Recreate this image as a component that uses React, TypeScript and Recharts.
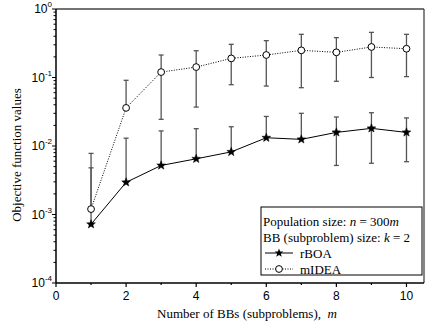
import React from 'react';
import { LineChart, Line, XAxis, YAxis, ErrorBar, ReferenceLine, Label } from 'recharts';

// ---- data ----
const mValues = [1, 2, 3, 4, 5, 6, 7, 8, 9, 10];

const rboaMean = [7.2e-4, 2.95e-3, 5.2e-3, 6.5e-3, 8.2e-3, 0.0132, 0.0125, 0.0158, 0.0181, 0.0158];
const rboaHigh = [4.8e-3, 0.013, 0.0166, 0.0179, 0.0191, 0.027, 0.03, 0.0265, 0.0306, 0.0257];
const rboaLow: (number | null)[] = [null, null, null, null, null, null, null, 5.2e-3, 5.6e-3, 5.9e-3];

const mideaMean = [1.2e-3, 0.036, 0.12, 0.142, 0.19, 0.213, 0.249, 0.233, 0.279, 0.263];
const mideaHigh = [7.8e-3, 0.091, 0.213, 0.246, 0.305, 0.345, 0.427, 0.382, 0.456, 0.427];
const mideaLow: (number | null)[] = [null, null, 0.0245, 0.037, 0.0785, 0.075, 0.071, 0.088, 0.1, 0.103];

const xTicks = [0, 1, 2, 3, 4, 5, 6, 7, 8, 9, 10];
const yMajorExp = [-4, -3, -2, -1, 0];
const yMinorMult = [2, 3, 4, 5, 6, 7, 8, 9];

const seriesNames = ['rBOA', 'mIDEA'];
const legendLines = ['Population size: ', 'BB (subproblem) size: '];

// ---- derived ----
const data = mValues.map((m, i) => ({
  m,
  rboa: rboaMean[i],
  rboaErr: [rboaLow[i] == null ? 0 : rboaMean[i] - (rboaLow[i] as number), rboaHigh[i] - rboaMean[i]],
  midea: mideaMean[i],
  mideaErr: [mideaLow[i] == null ? 0 : mideaMean[i] - (mideaLow[i] as number), mideaHigh[i] - mideaMean[i]],
}));

const yTicks: number[] = [];
yMajorExp.forEach((e) => {
  yTicks.push(Math.pow(10, e));
  if (e < 0) yMinorMult.forEach((k) => yTicks.push(k * Math.pow(10, e)));
});

// ---- layout ----
const W = 430;
const H = 331;
const PLOT_LEFT = 56;
const PLOT_TOP = 9;
const PLOT_RIGHT = 424;
const PLOT_BOTTOM = 283;
const SANS = '"Liberation Sans", Arial, sans-serif';
const SERIF = '"Liberation Serif", "Times New Roman", serif';

const starPoints = (cx: number, cy: number, R: number, r: number) => {
  const pts: string[] = [];
  for (let i = 0; i < 10; i++) {
    const rad = i % 2 === 0 ? R : r;
    const a = -Math.PI / 2 + (i * Math.PI) / 5;
    pts.push(`${(cx + rad * Math.cos(a)).toFixed(2)},${(cy + rad * Math.sin(a)).toFixed(2)}`);
  }
  return pts.join(' ');
};

const StarDot = (p: any) => {
  const { cx, cy, index } = p;
  if (cx == null || cy == null) return <g key={`s${index}`} />;
  return <polygon key={`s${index}`} points={starPoints(cx, cy, 4.6, 1.9)} fill="#000" stroke="#000" strokeWidth={0.5} />;
};

const CircleDot = (p: any) => {
  const { cx, cy, index } = p;
  if (cx == null || cy == null) return <g key={`c${index}`} />;
  return <circle key={`c${index}`} cx={cx} cy={cy} r={3.4} fill="#fff" stroke="#000" strokeWidth={1} />;
};

const XTick = (p: any) => {
  const { x, payload } = p;
  const v = payload.value;
  const major = v % 2 === 0;
  return (
    <g>
      <line x1={x} x2={x} y1={PLOT_BOTTOM} y2={PLOT_BOTTOM + (major ? 4 : 2)} stroke="#000" strokeWidth={1.2} />
      {major && (
        <text x={x} y={300} textAnchor="middle" fontFamily={SANS} fontSize={12} fill="#000">
          {v}
        </text>
      )}
    </g>
  );
};

const YTick = (p: any) => {
  const { y, payload } = p;
  const v = payload.value as number;
  const lg = Math.log10(v);
  const major = Math.abs(lg - Math.round(lg)) < 1e-9;
  return (
    <g>
      <line x1={PLOT_LEFT} x2={PLOT_LEFT - (major ? 4 : 2.5)} y1={y} y2={y} stroke="#000" strokeWidth={1} />
      {major && (
        <text x={52} y={y + 4} textAnchor="end" fontFamily={SANS} fontSize={12} fill="#000">
          10
          <tspan dy={-6} fontSize={8}>
            {Math.round(lg)}
          </tspan>
        </text>
      )}
    </g>
  );
};

const XTitle = () => (
  <text x={247} y={318} textAnchor="middle" fontFamily={SERIF} fontSize={13} fill="#000">
    Number of BBs (subproblems),{'\u00a0\u00a0'}
    <tspan fontStyle="italic">m</tspan>
  </text>
);

const YTitle = () => (
  <text
    x={21}
    y={155}
    transform="rotate(-90 21 155)"
    textAnchor="middle"
    fontFamily={SERIF}
    fontSize={13}
    fill="#000"
  >
    Objective function values
  </text>
);

const LegendBox = () => (
  <svg width={W} height={H} style={{ position: 'absolute', left: 0, top: 0, pointerEvents: 'none' }}>
    <rect x={261} y={207} width={161} height={68} fill="#fff" stroke="#000" strokeWidth={1} />
    <text x={263} y={226} fontFamily={SERIF} fontSize={13} fill="#000">
      {legendLines[0]}
      <tspan fontStyle="italic">n</tspan> = 300<tspan fontStyle="italic">m</tspan>
    </text>
    <text x={263} y={242} fontFamily={SERIF} fontSize={13} fill="#000">
      {legendLines[1]}
      <tspan fontStyle="italic">k</tspan> = 2
    </text>
    <line x1={265} x2={293} y1={253} y2={253} stroke="#000" strokeWidth={1} />
    <polygon points={starPoints(279, 253, 4.6, 1.9)} fill="#000" />
    <text x={300} y={257.5} fontFamily={SERIF} fontSize={13} fill="#000">
      {seriesNames[0]}
    </text>
    <line x1={265} x2={293} y1={269} y2={269} stroke="#000" strokeWidth={1} strokeDasharray="1 1.5" />
    <circle cx={279} cy={269} r={3.4} fill="#fff" stroke="#000" strokeWidth={1} />
    <text x={300} y={273.5} fontFamily={SERIF} fontSize={13} fill="#000">
      {seriesNames[1]}
    </text>
  </svg>
);

export default function App() {
  return (
    <div style={{ position: 'absolute', left: 0, top: 0, width: W, height: H, background: '#fff' }}>
      <LineChart
        width={W}
        height={H}
        data={data}
        margin={{ top: PLOT_TOP, right: W - PLOT_RIGHT, bottom: 0, left: 0 }}
      >
        <XAxis
          dataKey="m"
          type="number"
          domain={[0, 10.5]}
          ticks={xTicks}
          interval={0}
          allowDataOverflow
          height={H - PLOT_BOTTOM}
          tick={<XTick />}
          tickLine={false}
          tickSize={0}
          axisLine={{ stroke: '#000', strokeWidth: 1.5 }}
        >
          <Label content={<XTitle />} />
        </XAxis>
        <YAxis
          type="number"
          scale="log"
          domain={[1e-4, 1]}
          ticks={yTicks}
          interval={0}
          allowDataOverflow
          width={PLOT_LEFT}
          tick={<YTick />}
          tickLine={false}
          tickSize={0}
          axisLine={{ stroke: '#000', strokeWidth: 1.5 }}
        >
          <Label content={<YTitle />} />
        </YAxis>
        <ReferenceLine y={1} stroke="#444" strokeWidth={1.3} />
        <ReferenceLine x={10.5} stroke="#444" strokeWidth={1.3} />
        <Line
          dataKey="midea"
          stroke="#000"
          strokeWidth={1}
          strokeDasharray="1 1.5"
          isAnimationActive={false}
          dot={CircleDot}
          activeDot={false}
        >
          <ErrorBar dataKey="mideaErr" direction="y" width={2.5} stroke="#555" strokeWidth={1.3} />
        </Line>
        <Line
          dataKey="rboa"
          stroke="#000"
          strokeWidth={1}
          isAnimationActive={false}
          dot={StarDot}
          activeDot={false}
        >
          <ErrorBar dataKey="rboaErr" direction="y" width={2.5} stroke="#555" strokeWidth={1.3} />
        </Line>
      </LineChart>
      <LegendBox />
    </div>
  );
}
